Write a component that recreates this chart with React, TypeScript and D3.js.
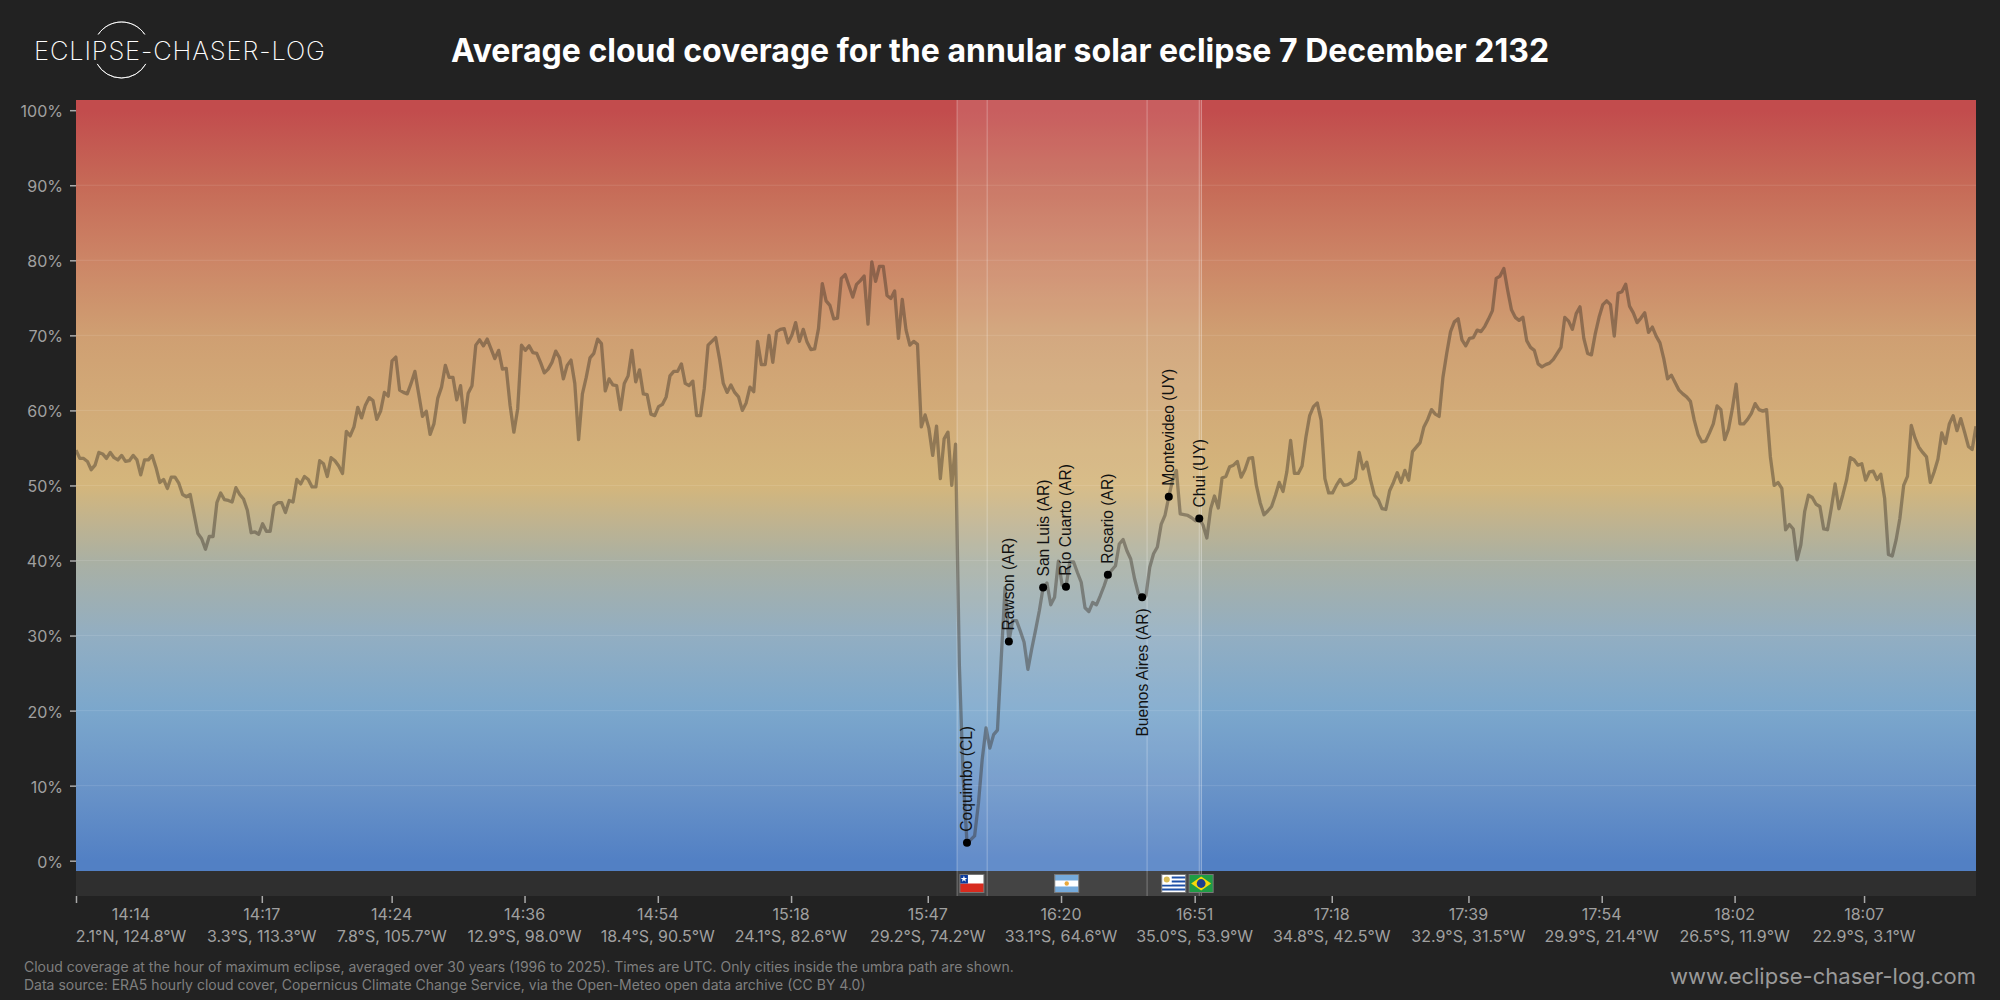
// @ts-nocheck
import React, { useRef, useEffect } from "react";
import * as d3 from "d3";

const width = 2000;
const height = 1000;

// average cloud cover (%) for each sample along the eclipse path, west to east
const cloudCover = [
  54.7, 53.6, 53.6, 53.2, 52.1, 52.7, 54.4, 54.2, 53.6, 54.4, 53.7, 53.4, 54, 53.2, 53.3, 54, 53.4, 51.4, 53.4, 53.4,
  54, 52.4, 50.4, 50.8, 49.6, 51.1, 51.1, 50.3, 48.8, 48.5, 48.8, 46.2, 43.6, 42.9, 41.5, 43.2, 43.2, 47.7, 49, 48.1,
  48, 47.8, 49.7, 48.8, 48.2, 46.7, 43.7, 43.8, 43.5, 44.9, 43.9, 43.9, 47.3, 47.7, 47.7, 46.4, 48, 47.8, 50.8, 50.2,
  51.2, 50.8, 49.8, 49.8, 53.3, 52.9, 51.2, 53.7, 53.3, 52.6, 51.6, 57.2, 56.6, 57.8, 60.4, 59, 60.7, 61.7, 61.3, 58.8,
  59.9, 62.4, 61.9, 66.6, 67.1, 62.7, 62.4, 62.2, 63.6, 65.2, 62.2, 59.2, 59.9, 56.8, 58.2, 61.6, 63.1, 66, 64.4, 64.4,
  61.4, 63.3, 58.4, 62.3, 63.3, 68.7, 69.4, 68.6, 69.5, 68.2, 66.9, 68, 65.5, 65.6, 60.7, 57.1, 60.2, 68.7, 68, 68.6,
  67.7, 67.6, 66.4, 65, 65.5, 66.4, 67.9, 67, 64.2, 66, 66.7, 63.6, 56.1, 62.2, 64.4, 67, 67.6, 69.5, 68.9, 62.6,
  64.2, 63.4, 63.3, 60.1, 63.6, 64.6, 68, 63.8, 65.4, 62.2, 62.1, 59.5, 59.3, 60.5, 60.8, 61.8, 64.6, 65.2, 65.2, 66.2,
  63.6, 63.3, 63.9, 59.3, 59.3, 62.9, 68.7, 69.2, 69.7, 66.9, 63.6, 62.4, 63.4, 62.4, 61.8, 60, 61, 63.1, 62.5, 69.2,
  66.1, 66.1, 70, 66.4, 70.5, 70.8, 70.9, 69, 70, 71.7, 69.2, 70.8, 69.1, 68.1, 68.2, 70.9, 76.9, 74.6, 74, 72.2,
  72.3, 77.6, 78.1, 76.6, 75.1, 76.8, 77.3, 77.9, 71.5, 79.8, 77.2, 79.2, 79.2, 75.3, 74.9, 75.9, 69.6, 74.8, 70.7, 68.7,
  69.2, 68.8, 57.8, 59.4, 57.6, 54, 57.9, 50.9, 56.2, 57.1, 50, 55.5, 26, 11, 2.4, 2.8, 3.3, 7.6, 13.5, 17.7,
  15, 16.8, 17.4, 27, 36.4, 29.2, 32, 32, 30.6, 29.1, 25.5, 28.2, 30.7, 33.3, 36.4, 37, 34.1, 35.1, 39.9, 36.7,
  36.5, 39.8, 39.8, 38.4, 37.1, 33.7, 33.2, 34.4, 34.1, 35.3, 36.6, 38.1, 38.7, 39.3, 42.2, 42.8, 41.3, 40.2, 37.6, 35.6,
  35.1, 35.3, 39.1, 40.9, 41.8, 44.8, 46, 48.5, 50.7, 52, 46.2, 46.1, 46, 45.7, 45.3, 45.6, 44.7, 43, 46.9, 48.6,
  47, 51, 51.2, 52.5, 52.7, 53.2, 51.1, 52.1, 53.6, 53.7, 50, 47.7, 46.1, 46.6, 47.2, 48.7, 50.4, 49.2, 51.8, 56,
  51.6, 51.6, 52.6, 56.4, 59.3, 60.5, 61, 58.7, 50.9, 49, 49, 50, 50.8, 50, 50.1, 50.4, 50.9, 54.4, 52.2, 53.1,
  50.7, 48.7, 48.1, 46.9, 46.8, 49.3, 50.4, 51.7, 50.4, 52, 50.7, 54.5, 55.1, 55.7, 57.8, 58.8, 60.1, 59.5, 59.2, 64.4,
  67.6, 70.5, 71.8, 72.2, 69.4, 68.6, 69.6, 69.7, 70.7, 70.5, 71.2, 72.2, 73.3, 77.6, 77.9, 78.9, 76, 73.4, 72.4, 72,
  72.4, 69.3, 68.4, 68, 66.2, 65.8, 66.1, 66.3, 66.8, 67.6, 68.4, 72.4, 71.9, 70.8, 72.9, 73.8, 69.6, 67.6, 67.4, 70.2,
  72.4, 74.1, 74.6, 74.1, 69.9, 75.6, 75.8, 76.8, 73.9, 73, 71.7, 72.3, 73, 70.4, 71.1, 69.9, 69, 66.9, 64.2, 64.7,
  63.7, 62.7, 62.2, 61.8, 61.2, 58.7, 56.8, 55.8, 55.9, 57, 58.2, 60.6, 60.1, 56.1, 57.5, 60.2, 63.5, 58.2, 58.2, 58.8,
  59.6, 60.9, 60.1, 59.9, 60.1, 53.8, 50, 50.4, 49.6, 44.1, 44.8, 44.2, 40.1, 42.1, 46.5, 48.7, 48.4, 47.5, 47.2, 44.2,
  44.1, 47, 50.2, 46.9, 48.7, 50.7, 53.7, 53.4, 52.7, 52.9, 50.7, 51.8, 51.9, 50.8, 51.5, 48.3, 40.8, 40.6, 42.7, 45.6,
  50, 51.2, 58, 56.3, 55.1, 54.4, 53.8, 50.4, 51.8, 53.5, 57, 55.6, 58.2, 59.3, 57.3, 58.9, 57.1, 55.2, 54.8, 57.9,
];

const cityNames = ["Coquimbo (CL)", "Rawson (AR)", "San Luis (AR)", "Río Cuarto (AR)", "Rosario (AR)", "Buenos Aires (AR)", "Montevideo (UY)", "Chui (UY)"];
const cityIndex = [234, 245, 254, 260, 271, 280, 287, 295];
const cityBelow = [false, false, false, false, false, true, false, false];

const tickIndex = [0, 48.8, 82.9, 117.8, 152.8, 187.8, 223.7, 258.7, 293.8, 329.8, 365.7, 400.7, 435.6, 469.6];
const tickTimes = ["14:14", "14:17", "14:24", "14:36", "14:54", "15:18", "15:47", "16:20", "16:51", "17:18", "17:39", "17:54", "18:02", "18:07"];
const tickPlaces = ["2.1°N, 124.8°W", "3.3°S, 113.3°W", "7.8°S, 105.7°W", "12.9°S, 98.0°W", "18.4°S, 90.5°W", "24.1°S, 82.6°W", "29.2°S, 74.2°W", "33.1°S, 64.6°W", "35.0°S, 53.9°W", "34.8°S, 42.5°W", "32.9°S, 31.5°W", "29.9°S, 21.4°W", "26.5°S, 11.9°W", "22.9°S, 3.1°W"];

const yTicks = [0, 10, 20, 30, 40, 50, 60, 70, 80, 90, 100];

// colour ramp behind the line, by cloud cover
const rampValues = [-1.5, 0, 10, 20, 30, 40, 50, 60, 70, 80, 90, 100, 101.5];
const rampColors = ["#5280c4", "#5280c4", "#6a94c8", "#7ba7cc", "#92aec2", "#aab0a3", "#d4b67c", "#d2ab78", "#cf9f72", "#cc8566", "#c66a57", "#c24c4d", "#c24c4d"];

// umbra crossing, country by country
const borderIndex = [231.4, 239.3, 281.3, 295, 295.6];
const flagIndex = [235.3, 260.2, 288.3, 295.5];
const flagCodes = ["CL", "AR", "UY", "BR"];

const m = { left: 76, right: 1976, top: 100, plotBottom: 871, bandBottom: 896 };
const INTER = "Inter, 'Noto Sans', sans-serif";

function drawFlag(g, code) {
  const W = 24;
  const H = 18;
  const rect = (x, y, w, h, fill) => g.append("rect").attr("x", x).attr("y", y).attr("width", w).attr("height", h).attr("fill", fill);
  if (code === "CL") {
    rect(0, 0, W, H, "#ffffff");
    rect(0, 9, W, 9, "#d72b1f");
    rect(0, 0, 8, 9, "#0b3c9e");
    g.append("path").attr("d", d3.symbol(d3.symbolStar, 14)()).attr("transform", "translate(4,4.5)").attr("fill", "#fff");
  } else if (code === "AR") {
    rect(0, 0, W, H, "#ffffff");
    rect(0, 0, W, 6, "#75aadb");
    rect(0, 12, W, 6, "#75aadb");
    g.append("circle").attr("cx", 12).attr("cy", 9).attr("r", 2.2).attr("fill", "#e9a93c");
  } else if (code === "UY") {
    rect(0, 0, W, H, "#ffffff");
    d3.range(1, 9, 2).forEach((i) => rect(0, i * 2, W, 2, "#1d4fa6"));
    rect(0, 0, 10, 10, "#ffffff");
    g.append("circle").attr("cx", 5).attr("cy", 5).attr("r", 3).attr("fill", "#d9bb55");
  } else {
    rect(0, 0, W, H, "#1f9c45");
    g.append("path").attr("d", "M12,2 L22,9 L12,16 L2,9 Z").attr("fill", "#f5d90a");
    g.append("circle").attr("cx", 12).attr("cy", 9).attr("r", 4.4).attr("fill", "#1d3f8f");
  }
  g.append("rect").attr("width", W).attr("height", H).attr("fill", "none").attr("stroke", "#777").attr("stroke-width", 1);
}

const CloudChart = () => {
  const ref = useRef(null);

  useEffect(() => {
    const svg = d3.select(ref.current);
    svg.selectAll("*").remove();

    const x = d3.scaleLinear().domain([0, cloudCover.length - 1]).range([m.left, m.right]);
    const y = d3.scaleLinear().domain([0, 100]).range([860.7, 110.2]);

    const grad = svg
      .append("defs")
      .append("linearGradient")
      .attr("id", "cover")
      .attr("gradientUnits", "userSpaceOnUse")
      .attr("x1", 0)
      .attr("x2", 0)
      .attr("y1", m.plotBottom)
      .attr("y2", m.top);
    rampValues.forEach((v, i) => {
      grad
        .append("stop")
        .attr("offset", (m.plotBottom - y(v)) / (m.plotBottom - m.top))
        .attr("stop-color", rampColors[i]);
    });

    svg.append("rect").attr("width", width).attr("height", height).attr("fill", "#222222");
    svg
      .append("rect")
      .attr("x", m.left)
      .attr("y", m.top)
      .attr("width", m.right - m.left)
      .attr("height", m.plotBottom - m.top)
      .attr("fill", "url(#cover)");
    svg
      .append("rect")
      .attr("x", m.left)
      .attr("y", m.plotBottom)
      .attr("width", m.right - m.left)
      .attr("height", m.bandBottom - m.plotBottom)
      .attr("fill", "#2f2f2f");

    // gridlines
    svg
      .append("g")
      .selectAll("line")
      .data(yTicks.filter((d) => d > 0 && d < 100))
      .join("line")
      .attr("x1", m.left)
      .attr("x2", m.right)
      .attr("y1", (d) => y(d))
      .attr("y2", (d) => y(d))
      .attr("stroke", "rgba(255,255,255,0.11)");

    // umbra band
    svg
      .append("rect")
      .attr("x", x(borderIndex[0]))
      .attr("y", m.top)
      .attr("width", x(borderIndex[4]) - x(borderIndex[0]))
      .attr("height", m.bandBottom - m.top)
      .attr("fill", "rgba(255,255,255,0.1)");
    svg
      .append("g")
      .selectAll("line")
      .data(borderIndex)
      .join("line")
      .attr("x1", (d) => x(d))
      .attr("x2", (d) => x(d))
      .attr("y1", m.top)
      .attr("y2", m.bandBottom)
      .attr("stroke", "rgba(255,255,255,0.3)");

    // the series
    const line = d3
      .line()
      .x((d, i) => x(i))
      .y((d) => y(d));
    svg
      .append("path")
      .attr("d", line(cloudCover))
      .attr("fill", "none")
      .attr("stroke", "rgba(55,45,35,0.42)")
      .attr("stroke-width", 3.3)
      .attr("stroke-linejoin", "round");

    // cities
    cityNames.forEach((name, i) => {
      const cx = x(cityIndex[i]);
      const cy = y(cloudCover[cityIndex[i]]);
      svg.append("circle").attr("cx", cx).attr("cy", cy).attr("r", 4).attr("fill", "#000");
      const below = cityBelow[i];
      svg
        .append("text")
        .attr("transform", `translate(${cx + 5.5},${below ? cy + 11 : cy - 11}) rotate(-90)`)
        .attr("text-anchor", below ? "end" : "start")
        .attr("font-family", "'Liberation Sans', sans-serif")
        .attr("font-size", 15.6)
        .attr("fill", "#111")
        .text(name);
    });

    // flags
    flagCodes.forEach((code, i) => {
      const g = svg.append("g").attr("transform", `translate(${x(flagIndex[i]) - 12},874.5)`);
      drawFlag(g, code);
    });

    // y axis
    const yAxis = svg
      .append("g")
      .attr("transform", `translate(${m.left},0)`)
      .call(d3.axisLeft(y).tickValues(yTicks).tickFormat((d) => `${d}%`).tickSize(6).tickPadding(7));
    yAxis.select(".domain").remove();
    yAxis.selectAll("line").attr("stroke", "#aaaaaa").attr("stroke-width", 1.5);
    yAxis.selectAll("text").attr("fill", "#a0a0a0").attr("font-size", 16).attr("font-family", INTER).attr("dy", "0.4em");

    // x axis, two rows of labels
    const xAxis = svg
      .append("g")
      .attr("transform", `translate(0,${m.bandBottom})`)
      .call(d3.axisBottom(x).tickValues(tickIndex).tickFormat("").tickSize(7));
    xAxis.select(".domain").remove();
    xAxis.selectAll("line").attr("stroke", "#aaaaaa").attr("stroke-width", 1.5);
    tickIndex.forEach((t, i) => {
      const cx = i === 0 ? x(t) + 55 : x(t);
      svg
        .append("text")
        .attr("x", cx)
        .attr("y", 920)
        .attr("text-anchor", "middle")
        .attr("font-family", INTER)
        .attr("font-size", 16)
        .attr("fill", "#a0a0a0")
        .text(tickTimes[i]);
      svg
        .append("text")
        .attr("x", cx)
        .attr("y", 941.5)
        .attr("text-anchor", "middle")
        .attr("font-family", INTER)
        .attr("font-size", 16)
        .attr("fill", "#a0a0a0")
        .text(tickPlaces[i]);
    });

    // header
    svg
      .append("text")
      .attr("x", 1000)
      .attr("y", 62)
      .attr("text-anchor", "middle")
      .attr("font-family", INTER)
      .attr("font-weight", 700)
      .attr("font-size", 32)
      .attr("fill", "#ffffff")
      .text("Average cloud coverage for the annular solar eclipse 7 December 2132");

    // logo
    svg
      .append("text")
      .attr("x", 34)
      .attr("y", 59.5)
      .attr("font-family", INTER)
      .attr("font-weight", 200)
      .attr("font-size", 25.5)
      .attr("letter-spacing", 0.85)
      .attr("fill", "#ffffff")
      .text("ECLIPSE-CHASER-LOG");
    const logoArc = d3.arc().innerRadius(28).outerRadius(28);
    [
      [-0.98, 0.98],
      [Math.PI - 1.05, Math.PI + 1.05],
    ].forEach(([a0, a1]) => {
      svg
        .append("path")
        .attr("transform", "translate(121.5,50)")
        .attr("d", logoArc({ startAngle: a0, endAngle: a1 }))
        .attr("fill", "none")
        .attr("stroke", "#ffffff")
        .attr("stroke-width", 0.8);
    });

    // footer
    svg
      .append("text")
      .attr("x", 24)
      .attr("y", 972)
      .attr("font-family", INTER)
      .attr("font-size", 14)
      .attr("fill", "#7f7f7f")
      .text("Cloud coverage at the hour of maximum eclipse, averaged over 30 years (1996 to 2025). Times are UTC. Only cities inside the umbra path are shown.");
    svg
      .append("text")
      .attr("x", 24)
      .attr("y", 990)
      .attr("font-family", INTER)
      .attr("font-size", 14)
      .attr("fill", "#7f7f7f")
      .text("Data source: ERA5 hourly cloud cover, Copernicus Climate Change Service, via the Open-Meteo open data archive (CC BY 4.0)");
    svg
      .append("text")
      .attr("x", m.right)
      .attr("y", 984)
      .attr("text-anchor", "end")
      .attr("font-family", INTER)
      .attr("font-size", 22)
      .attr("fill", "#9a9a9a")
      .text("www.eclipse-chaser-log.com");
  }, []);

  return <svg ref={ref} width={width} height={height} style={{ position: "absolute", left: 0, top: 0, display: "block" }} />;
};

export default function App() {
  return <CloudChart />;
}
